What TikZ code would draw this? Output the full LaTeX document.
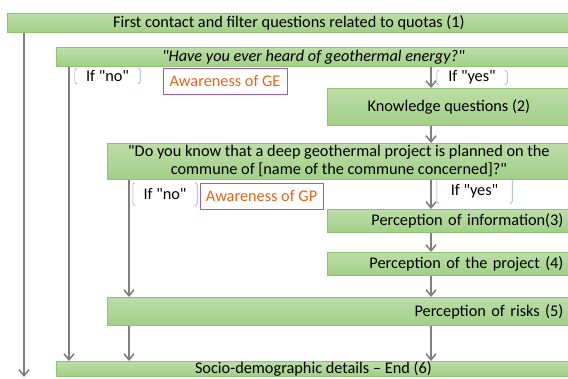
\documentclass[tikz,border=0pt]{standalone}
\usepackage{fontspec}
\setmainfont{Carlito}[Ligatures=TeXOff]
\usetikzlibrary{arrows.meta}
\definecolor{gtop}{HTML}{BCDDA8}
\definecolor{gbot}{HTML}{A2CF87}
\definecolor{gline}{HTML}{8EC372}
\definecolor{carrow}{HTML}{7F7F7F}
\definecolor{cbrk}{HTML}{8FAADC}
\definecolor{cpurp}{HTML}{A05DB0}
\definecolor{corange}{HTML}{E0661A}
\newcommand{\fs}{\fontsize{16.3}{18}\selectfont}
\newcommand{\ifbrk}[1]{%
  \draw[brk] ([xshift=2.5pt]#1.north west) -| (#1.south west) -- ++(2.5pt,0);
  \draw[brk] ([xshift=-2.5pt]#1.north east) -| (#1.south east) -- ++(-2.5pt,0);}
\tikzset{
  gbox/.style={rectangle, draw=gline, top color=gtop, bottom color=gbot, line width=0.8pt,
               anchor=north west, inner xsep=7pt, inner ysep=0pt, font=\fs},
  aware/.style={rectangle, draw=cpurp, line width=0.8pt, text=corange, inner sep=0pt,
                minimum width=124pt, minimum height=26pt, font=\fs},
  iflab/.style={rectangle, inner sep=0pt, font=\fs},
  brk/.style={draw=cbrk, line width=0.6pt, rounded corners=1.5pt},
  flow/.style={-{Straight Barb[length=6pt,width=10pt]}, line width=1.6pt, draw=carrow}
}

\begin{document}
\begin{tikzpicture}[x=1pt,y=-1pt]
\useasboundingbox (0,0) rectangle (568,378);
% question boxes
\node[gbox, minimum width=563pt, minimum height=19pt] (fc) at (7,13) {First contact and filter questions related to quotas (1)};
\node[gbox, minimum width=514pt, minimum height=19pt, font=\fs\itshape] (hq) at (56,47) {"Have you ever heard of geothermal energy?"};
\node[gbox, minimum width=243pt, minimum height=37pt] (kq) at (327,88) {Knowledge questions (2)};
\node[gbox, minimum width=463pt, minimum height=36pt, align=center] (dq) at (107,143) {"Do you know that a deep geothermal project is planned on the\\commune of [name of the commune concerned]?"};
\node[gbox, text width=229pt, align=right, minimum height=23pt] (pi) at (327,209) {Perception of information(3)};
\node[gbox, text width=229pt, align=right, minimum height=23pt] (pp) at (327,252) {Perception of the project (4)};
\node[gbox, text width=449pt, align=right, minimum height=28pt] (pr) at (107,297) {Perception of risks (5)};
\node[gbox, minimum width=514pt] (sd) at (56,361) {Socio-demographic details – End (6)};
% awareness boxes
\node[aware] (age) at (225,81) {Awareness of GE};
\node[aware, minimum width=123pt] (agp) at (261.5,196) {Awareness of GP};
% answer labels
\node[iflab, minimum width=65pt, minimum height=15pt] (no1) at (107.5,76) {If "no"};
\node[iflab, minimum width=70pt, minimum height=12pt] (yes1) at (472,77.5) {If "yes"};
\node[iflab, minimum width=64pt, minimum height=22pt] (no2) at (165,194) {If "no"};
\node[iflab, minimum width=75pt, minimum height=24pt] (yes2) at (474.5,191) {If "yes"};
\ifbrk{no1}\ifbrk{yes1}\ifbrk{no2}\ifbrk{yes2}
% columns
\coordinate (xa) at (24,0);
\coordinate (xb) at (69,0);
\coordinate (xc) at (129,0);
\coordinate (xd) at (431,0);
\coordinate (ea) at (24,377);
% connectors
\draw[flow] (fc.south -| xa) -- (ea);
\draw[flow] (hq.south -| xb) -- (sd.north -| xb);
\draw[flow] (hq.south -| xd) -- (kq.north -| xd);
\draw[flow] (kq.south -| xd) -- (dq.north -| xd);
\draw[flow] (dq.south -| xc) -- (pr.north -| xc);
\draw[flow] (dq.south -| xd) -- (pi.north -| xd);
\draw[flow] (pi.south -| xd) -- (pp.north -| xd);
\draw[flow] (pp.south -| xd) -- (pr.north -| xd);
\draw[flow] (pr.south -| xc) -- (sd.north -| xc);
\draw[flow] (pr.south -| xd) -- (sd.north -| xd);
\end{tikzpicture}
\end{document}
